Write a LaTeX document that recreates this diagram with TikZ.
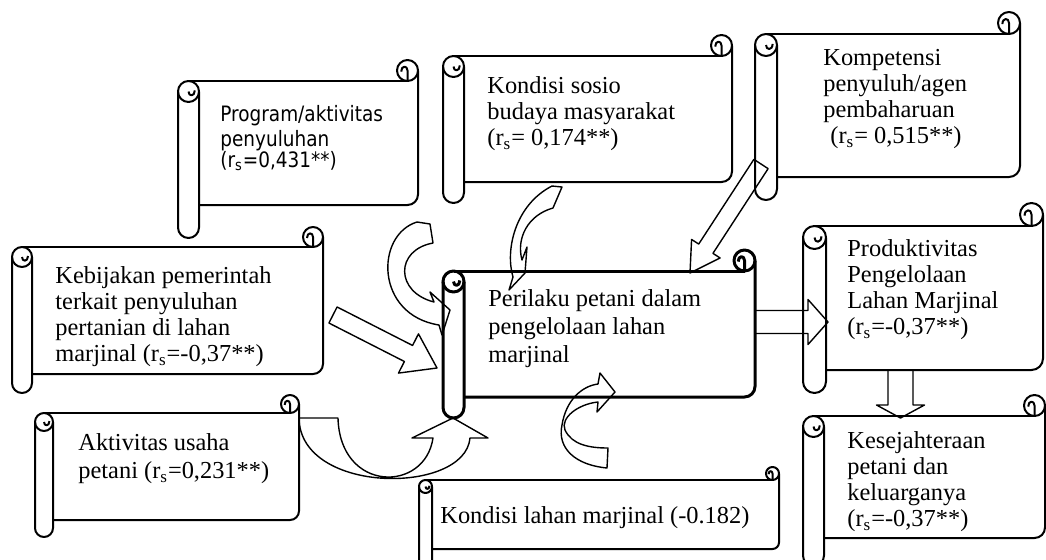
\documentclass[tikz,border=0pt]{standalone}
\usepackage{fontspec}
\setmainfont{Liberation Serif}
\newfontfamily\tahoma[FakeStretch=0.87]{DejaVu Sans}
\usetikzlibrary{calc}

% scroll: [opts] L, T, R, panel bottom, roll bottom, roll size
\newcommand{\scroll}[7][]{%
  \pgfmathsetmacro{\scR}{#7/2}
  \pgfmathsetmacro{\scRc}{#7/4}
  \pgfmathsetmacro{\scXa}{#2+\scR}
  \pgfmathsetmacro{\scXb}{#2+#7}
  \pgfmathsetmacro{\scXc}{#4-\scR}
  \pgfmathsetmacro{\scXd}{#4-1.6*\scR}
  \pgfmathsetmacro{\scXe}{#2+1.6*\scR}
  \pgfmathsetmacro{\scYa}{#3+\scR}
  \pgfmathsetmacro{\scYb}{#3+#7}
  \pgfmathsetmacro{\scYc}{#3+#7+\scR}
  \pgfmathsetmacro{\scYd}{#3+0.5*\scR}
  \pgfmathsetmacro{\scYe}{#3+1.1*\scR}
  \pgfmathsetmacro{\scYf}{#3+#7+1.5*\scR}
  \pgfmathsetmacro{\scYg}{#3+#7+0.9*\scR}
  \begin{scope}[scrollline,#1]
    \draw (\scXa,\scYb) -- (\scXc,\scYb);
    \draw[rounded corners=\scRc pt] (#4,\scYa) -- (#4,#5) -- (\scXb,#5);
    \draw[rounded corners=\scRc pt] (#2,\scYc) -- (#2,#6) -- (\scXb,#6) -- (\scXb,\scYc);
    \draw (\scXa,\scYc) circle[radius=\scRc pt];
    \draw (\scXc,\scYa) circle[radius=\scRc pt];
    \draw (\scXc,\scYb) -- (\scXc,\scYa) .. controls (\scXc,\scYd) and (\scXd,\scYd) .. (\scXd,\scYe);
    \draw (\scXa,\scYc) .. controls (\scXa,\scYf) and (\scXe,\scYf) .. (\scXe,\scYg);
  \end{scope}}

% block arrow: [opts] from, to, shaft half width, head half width, head length
\newcommand{\blockarrow}[6][]{%
  \coordinate (ah) at ($(#3)!#6!(#2)$);
  \draw[blockarr,#1] ($(#2)!#4!90:(#3)$) -- ($(ah)!#4!90:(#3)$) -- ($(ah)!#5!90:(#3)$)
    -- (#3) -- ($(ah)!#5!-90:(#3)$) -- ($(ah)!#4!-90:(#3)$) -- ($(#2)!#4!-90:(#3)$) -- cycle;}

\begin{document}
\begin{tikzpicture}[x=0.5pt,y=-0.5pt,line join=round]
\tikzset{scrollline/.style={line width=1pt},
  blockarr/.style={line width=0.7pt},
  curvearr/.style={line width=0.7pt},
  txt/.style={anchor=north west,inner sep=0pt,align=left,font=\fontsize{12.2}{13}\selectfont},
  txtwide/.style={txt,font=\fontsize{12.2}{14}\selectfont},
  txtsans/.style={txt,font=\tahoma\fontsize{10.6}{10.75}\selectfont}}
\useasboundingbox (0,0) rectangle (1046,559);

\scroll{178}{60}{418}{205}{238}{21}
\node[txtsans] (program) at (220,105)
  {\strut Program/aktivitas\\penyuluhan\\(r\textsubscript{s}=0,431**)};
\scroll{443}{35}{732}{182}{203}{21}
\node[txt] (sosio) at (487,74.8)
  {\strut Kondisi sosio\\budaya masyarakat\\(r\textsubscript{s}= 0,174**)};
\scroll{755}{12}{1020}{177}{200}{22}
\node[txt] (kompetensi) at (823,46.8)
  {\strut Kompetensi\\penyuluh/agen\\pembaharuan\\\hspace*{3.5pt}(r\textsubscript{s}= 0,515**)};
\scroll{12}{227}{323}{374}{393}{20}
\node[txt] (kebijakan) at (55,264.8)
  {\strut Kebijakan pemerintah\\terkait penyuluhan\\pertanian di lahan\\marjinal (r\textsubscript{s}=-0,37**)};
\scroll[line width=1.5pt]{443}{250}{755}{397}{418}{21}
\node[txtwide] (perilaku) at (488,286.4)
  {\strut Perilaku petani dalam\\pengelolaan lahan\\marjinal};
\scroll{803}{203}{1043}{370}{393}{23}
\node[txt] (produktivitas) at (847,237.8)
  {\strut Produktivitas\\Pengelolaan\\Lahan Marjinal\\(r\textsubscript{s}=-0,37**)};
\scroll{803}{395}{1045}{538}{566}{21}
\node[txt] (kesejahteraan) at (847,429.8)
  {\strut Kesejahteraan\\petani dan\\keluarganya\\(r\textsubscript{s}=-0,37**)};
\scroll{35}{395}{299}{520}{537}{18}
\node[txtwide] (usaha) at (78,430.4)
  {\strut Aktivitas usaha\\petani (r\textsubscript{s}=0,231**)};
\scroll{419}{467}{779}{549}{575}{13}
\node[txt] (lahan) at (440,504.8) {\strut Kondisi lahan marjinal (-0.182)};

\coordinate (kebijakan-out) at (333,315);
\coordinate (perilaku-in1) at (437,368);
\coordinate (kompetensi-out) at (761,164);
\coordinate (perilaku-in2) at (690,273);
\coordinate (perilaku-out) at (755,322);
\coordinate (produktivitas-in) at (828,322);
\coordinate (produktivitas-out) at (900.5,370);
\coordinate (kesejahteraan-in) at (900.5,418);

\blockarrow{kebijakan-out}{perilaku-in1}{4.5pt}{11pt}{16pt}
\blockarrow{kompetensi-out}{perilaku-in2}{4.25pt}{8.5pt}{14.5pt}
\blockarrow{perilaku-out}{produktivitas-in}{5.75pt}{11.25pt}{10pt}
\blockarrow{produktivitas-out}{kesejahteraan-in}{6.25pt}{12pt}{6.5pt}

\draw[curvearr] (417,222) -- (430,224) -- (433,243) .. controls (395,250) and (395,292) .. (434,302)
  -- (430,292) -- (450,310) -- (442,335) -- (439,325) .. controls (375,315) and (375,235) .. (417,222) -- cycle;
\draw[curvearr] (552,186) -- (562,187) -- (553,208) .. controls (528,215) and (516,238) .. (522,260)
  -- (527,247) -- (525,273) -- (509,290) -- (513,277) .. controls (505,250) and (515,205) .. (552,186) -- cycle;
\draw[curvearr] (598,384) -- (600,373) -- (615,392) -- (597,412) -- (598,402)
  .. controls (578,404) and (560,418) .. (565,430) .. controls (572,445) and (590,448) .. (608,448)
  -- (607,468) .. controls (575,465) and (557,448) .. (562,425) .. controls (566,400) and (582,386) .. (598,384) -- cycle;
\draw[curvearr] (299,418) -- (338,418) .. controls (340,493) and (425,493) .. (433,438) -- (412,438)
  -- (453,418) -- (488,438) -- (470,438) .. controls (465,495) and (300,495) .. (299,418) -- cycle;
\end{tikzpicture}
\end{document}
